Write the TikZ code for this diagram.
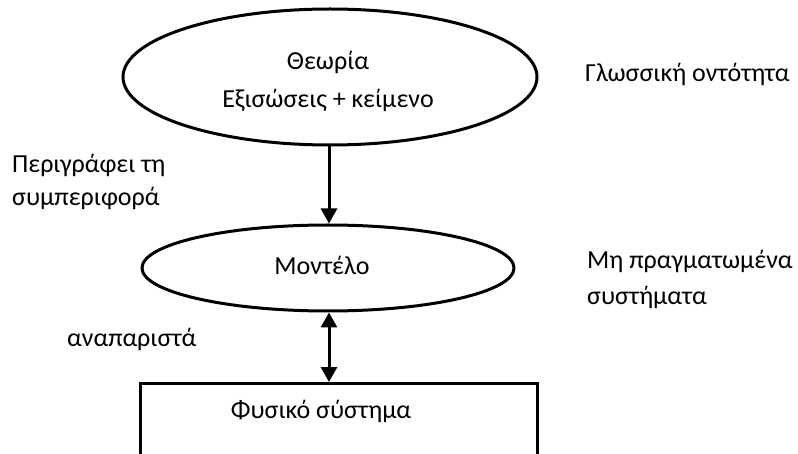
\documentclass[tikz,border=0pt]{standalone}
\usepackage{fontspec}
\setmainfont{Carlito}
\usetikzlibrary{shapes.geometric,arrows.meta}
\begin{document}
\begin{tikzpicture}[x=1pt,y=-1pt,
  outline/.style={draw=black, line width=3pt},
  oval/.style={outline, ellipse, inner sep=0pt},
  lbl/.style={font=\fontsize{26}{33}\selectfont, inner sep=0pt},
  link/.style={line width=3pt},
  head/.style={-{Triangle[width=16pt,length=15pt]}},
  twohead/.style={{Triangle[width=16pt,length=15pt]}-{Triangle[width=16pt,length=15pt]}}
]
\useasboundingbox (0,0) rectangle (798,454);
\clip (0,0) rectangle (798,454);

% the three levels
\node[oval, minimum width=414, minimum height=136] (theory) at (330,77) {};
\node[lbl, align=center] (theorytext) at (328,81) {Θεωρία\\[5pt]Εξισώσεις + κείμενο};
\node[oval, minimum width=372, minimum height=86] (model) at (328,268) {};
\node[lbl, anchor=base] (modeltext) at (322,275) {Μοντέλο};
\node[outline, rectangle, minimum width=397, minimum height=200, anchor=north] (phys) at (338.5,382) {};
\node[lbl, anchor=base] (physname) at (321,418) {Φυσικό σύστημα};

% side labels
\node[lbl, anchor=base west] (lang) at (585,82) {Γλωσσική οντότητα};
\node[lbl, anchor=base west, align=left] (desc) at (12,206) {Περιγράφει τη\\συμπεριφορά};
\node[lbl, anchor=base west, align=left] (abstract) at (587,305) {Μη πραγματωμένα\\[3pt]συστήματα};
\node[lbl, anchor=base west] (repr) at (67,347) {αναπαριστά};

% connectors
\draw[link, head] (theory.south -| 329,0) -- (model.north -| 329,0);
\draw[link, twohead] (model.south -| 329,0) -- (phys.north -| 329,0);
\end{tikzpicture}
\end{document}
